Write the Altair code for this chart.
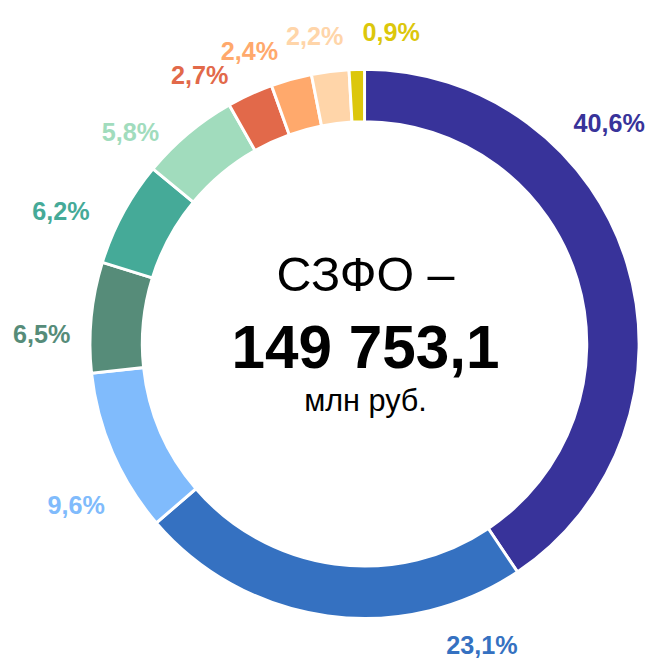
import math
import altair as alt
import pandas as pd

# ---- data ----
shares = [40.6, 23.1, 9.6, 6.5, 6.2, 5.8, 2.7, 2.4, 2.2, 0.9]
colors = ["#38339A", "#3571C1", "#80BBFC", "#568C79", "#45AA98",
          "#A1DCBD", "#E2694A", "#FFA96C", "#FFD5A9", "#DCC70B"]
# manual label placement as in the original layout: nudge (degrees) from slice middle, distance from centre
label_nudge = [-25, -29, -6, -4, -5, -8, -7, -6, -2, 6.5]
label_dist = [333, 328, 335, 327, 335, 319, 318, 318, 315, 316]
center_title = "СЗФО –"
center_value = "149 753,1"
center_unit = "млн руб."

idx = list(range(len(shares)))
labels = [f"{v:.1f}".replace(".", ",") + "%" for v in shares]
df = pd.DataFrame({"idx": idx, "share": shares, "label": labels,
                   "nudge": label_nudge, "dist": label_dist})

CX, CY = 361, 336
FONT = "Liberation Sans, Arial, sans-serif"

color_scale = alt.Scale(domain=idx, range=colors)

arcs = alt.Chart(df).mark_arc(
    innerRadius=225, outerRadius=278, stroke="white", strokeWidth=3, x=CX, y=CY
).encode(
    theta=alt.Theta("share:Q", stack=True),
    order=alt.Order("idx:Q"),
    color=alt.Color("idx:N", scale=color_scale, legend=None),
)

lab = alt.Chart(df).transform_window(
    cum="sum(share)", sort=[alt.SortField("idx")], frame=[None, 0]
).transform_calculate(
    lab_rad="((datum.cum - datum.share/2) * 3.6 + datum.nudge) * PI / 180"
).transform_calculate(
    lx=f"{CX} + datum.dist * sin(datum.lab_rad)",
    ly=f"{CY} - datum.dist * cos(datum.lab_rad)",
).mark_text(
    font=FONT, fontWeight="bold", fontSize=25.5,
    align="center", baseline="middle"
).encode(
    x=alt.X("lx:Q", scale=None),
    y=alt.Y("ly:Q", scale=None),
    text="label:N",
    color=alt.Color("idx:N", scale=color_scale, legend=None),
)

def center_text(txt, y, size, weight):
    return alt.Chart(pd.DataFrame({"t": [txt]})).mark_text(
        font=FONT, fontSize=size, fontWeight=weight, color="black",
        align="center", baseline="alphabetic"
    ).encode(x=alt.value(362), y=alt.value(y), text="t:N")

chart = alt.layer(
    arcs, lab,
    center_text(center_title, 282, 49, "normal"),
    center_text(center_value, 360, 61, "bold"),
    center_text(center_unit, 404, 31, "normal"),
).properties(
    width=648, height=653, padding=0, autosize="none"
).configure_view(stroke=None)

chart.save("out.html", embed_options={"renderer": "svg", "actions": False})
